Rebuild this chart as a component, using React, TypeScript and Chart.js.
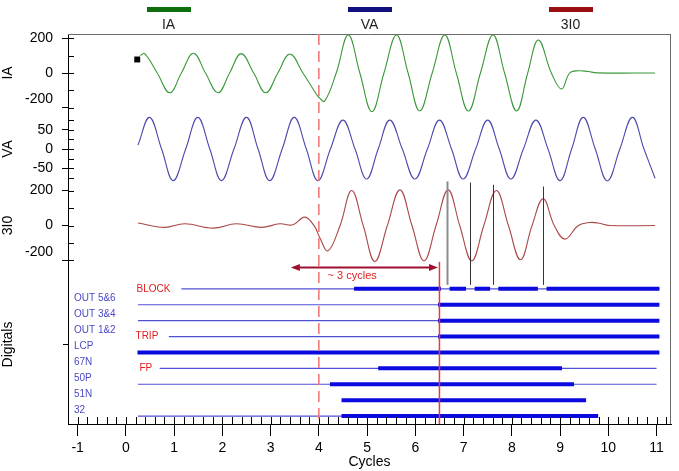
import React, { useEffect, useRef } from 'react';
import { Chart, registerables } from 'chart.js';

Chart.register(...registerables);

// ---- axes ----
const xMin = -1.2;
const xMax = 11.3;
const xTickValues = [-1, 0, 1, 2, 3, 4, 5, 6, 7, 8, 9, 10, 11];
const xMinorStep = 0.2;

const iaRange = [-225, 225];
const iaTicks = [-200, 0, 200];
const iaMinorTicks = [-100, 100];
const vaRange = [-96, 96];
const vaTicks = [-50, 0, 50];
const vaMinorTicks = [-75, -25, 25, 75];
const i0Range = [-226, 226];
const i0Ticks = [-200, 0, 200];
const i0MinorTicks = [-100, 100];
const digRange = [0, 10];
const digTicks = [5];

// ---- analog channels (cycles, value) ----
const iaCycles = [0.30, 0.39, 0.65, 0.91, 1.15, 1.40, 1.65, 1.91, 2.15, 2.39, 2.65, 2.90, 3.15, 3.40, 3.67, 3.91, 3.99, 4.12, 4.36, 4.61, 4.85, 5.10, 5.35, 5.61, 5.85, 6.09, 6.35, 6.61, 6.85, 7.10, 7.35, 7.61, 7.85, 8.10, 8.33, 8.55, 8.82, 9.03, 9.20, 9.38, 9.58, 9.76, 10.97];
const iaValues = [100, 112, 0, -114, 0, 114, 0, -114, 0, 112, 0, -114, 0, 110, 0, -105, -137, -162, 0, 219, 0, -223, 0, 219, 0, -219, 0, 219, 0, -219, 0, 219, 0, -219, 0, 190, 0, -92, 0, 13, 9, 1, 0];

const vaCycles = [0.25, 0.49, 0.74, 0.98, 1.24, 1.49, 1.74, 1.98, 2.24, 2.50, 2.74, 2.98, 3.24, 3.49, 3.74, 3.98, 4.24, 4.50, 4.75, 4.99, 5.23, 5.47, 5.73, 5.99, 6.25, 6.50, 6.75, 6.99, 7.25, 7.50, 7.74, 7.98, 8.24, 8.50, 8.75, 9.00, 9.24, 9.48, 9.73, 9.98, 10.24, 10.50, 10.74, 10.97];
const vaValues = [10, 82, 0, -82, 0, 82, 0, -82, 0, 82, 0, -82, 0, 82, 0, -82, 0, 75, 0, -78, 0, 75, 0, -78, 0, 75, 0, -78, 0, 75, 0, -78, 0, 75, 0, -82, 0, 82, 0, -83, 0, 82, 0, -76];

const i0Cycles = [0.25, 0.80, 1.22, 1.81, 2.29, 2.81, 3.19, 3.46, 3.71, 3.91, 4.02, 4.19, 4.44, 4.68, 4.92, 5.16, 5.42, 5.68, 5.93, 6.18, 6.43, 6.68, 6.92, 7.17, 7.42, 7.68, 7.93, 8.18, 8.42, 8.65, 8.88, 9.10, 9.38, 9.62, 9.79, 10.03, 10.97];
const i0Values = [14, -11, 10, -15, 10, -11, 10, 4, 48, -5, -70, -145, 0, 200, 0, -206, 0, 204, 0, -202, 0, 204, 0, -202, 0, 200, 0, -196, 0, 153, 0, -78, 0, 17, 14, 0, 0];

const startMarkerCycle = 0.235;
const startMarkerValue = 78;

// ---- digitals ----
const digitalRowLevels = [8.5, 7.5, 6.5, 5.5, 4.5, 3.5, 2.5, 1.5, 0.5];
const digitalThin = [[1.15, 11.06], [0.25, 6.47], [0.25, 6.47], [0.89, 6.47], null, [0.70, 11.0], [0.25, 11.0], null, [0.25, 9.79]];
const digitalThick = [
  [[4.73, 6.53], [6.71, 7.05], [7.23, 7.55], [7.72, 8.54], [8.72, 11.06]],
  [[6.47, 11.06]],
  [[6.47, 11.06]],
  [[6.47, 11.06]],
  [[0.24, 11.06]],
  [[5.23, 9.04]],
  [[4.23, 9.29]],
  [[4.47, 9.54]],
  [[4.47, 9.79]],
];
const digitalNames = ['OUT 5&6', 'OUT 3&4', 'OUT 1&2', 'LCP', '67N', '50P', '51N', '32'];
const eventLabels = ['BLOCK', 'TRIP', 'FP'];
const eventRows = [8.5, 5.5, 3.5];
const eventCycles = [0.22, 0.2, 0.28];

// ---- annotations ----
const faultCycle = 4;
const tripCycle = 6.5;
const arrowFrom = 3.42;
const arrowTo = 6.47;
const arrowLevel = 9.85;
const arrowText = '~ 3 cycles';
const arrowTextCycle = 4.18;
const arrowTextLevel = 9.28;
const markerCycles = [6.65, 7.13, 7.62, 8.64];
const markerTops = [252, 246, 233, 223];
const markerBottom = 8.75;

const legendLabels = ['IA', 'VA', '3I0'];
const legendColors = ['#0e6e0e', '#10107e', '#9a1010'];
const lineColors = ['#3a983a', '#4a4aac', '#aa4848'];

const FONT = '"Liberation Sans", Arial, sans-serif';
Chart.defaults.font.family = FONT;

const toPts = (xs: number[], ys: number[]) => xs.map((x, i) => ({ x, y: ys[i] }));

function buildDatasets() {
  const ds: any[] = [
    { label: 'IA', data: toPts(iaCycles, iaValues), yAxisID: 'ia', borderColor: lineColors[0], borderWidth: 1.1, pointRadius: 0, tension: 0.4, order: 0 },
    { label: 'VA', data: toPts(vaCycles, vaValues), yAxisID: 'va', borderColor: lineColors[1], borderWidth: 1.1, pointRadius: 0, tension: 0.4, order: 0 },
    { label: '3I0', data: toPts(i0Cycles, i0Values), yAxisID: 'i0', borderColor: lineColors[2], borderWidth: 1.1, pointRadius: 0, tension: 0.4, order: 0 },
    { label: 'start', data: [{ x: startMarkerCycle, y: startMarkerValue }], yAxisID: 'ia', showLine: false, pointStyle: 'rect', pointRadius: 4.2, backgroundColor: '#000', borderColor: '#000', borderWidth: 0, order: 0 },
  ];
  digitalRowLevels.forEach((lvl, i) => {
    const thin = digitalThin[i];
    if (thin) {
      ds.push({ label: 'thin' + i, data: [{ x: thin[0], y: lvl }, { x: thin[1], y: lvl }], yAxisID: 'dig', borderColor: '#5050d4', borderWidth: 1.2, pointRadius: 0, order: 2 });
    }
  });
  digitalRowLevels.forEach((lvl, i) => {
    const segs = digitalThick[i];
    const pts: any[] = [];
    segs.forEach((s, j) => {
      if (j > 0) pts.push({ x: (segs[j - 1][1] + s[0]) / 2, y: null });
      pts.push({ x: s[0], y: lvl }, { x: s[1], y: lvl });
    });
    ds.push({ label: 'thick' + i, data: pts, yAxisID: 'dig', borderColor: '#0a0ae0', borderWidth: 4, pointRadius: 0, spanGaps: false, order: 1 });
  });
  return ds;
}

function yAxis(title: string, range: number[], ticks: number[], weight: number, stackWeight: number, tickLen: number, showLabels: boolean) {
  return {
    type: 'linear',
    position: 'left',
    stack: 'panels',
    stackWeight,
    weight,
    min: range[0],
    max: range[1],
    afterBuildTicks: (s: any) => { s.ticks = ticks.map((v) => ({ value: v })); },
    afterFit: (s: any) => { s.width = 68; },
    ticks: {
      autoSkip: false,
      padding: 9,
      color: '#000',
      font: { size: 14 },
      callback: (v: any) => (showLabels ? (v === -200 ? ['-200', ''] : String(v)) : ''),
    },
    grid: { drawOnChartArea: false, tickLength: tickLen, color: '#000' },
    border: { color: '#000', width: 1 },
    title: { display: true, text: title, font: { size: 14 }, color: '#000', padding: 0 },
  };
}

const annotPlugin = {
  id: 'annot',
  afterDatasetsDraw(chart: any) {
    const { ctx, chartArea: ca, scales } = chart;
    const sx = scales.x, sDig = scales.dig, sI0 = scales.i0;
    const px = (v: number) => sx.getPixelForValue(v);
    const line = (x1: number, y1: number, x2: number, y2: number) => {
      ctx.beginPath(); ctx.moveTo(x1, y1); ctx.lineTo(x2, y2); ctx.stroke();
    };
    ctx.save();
    // frame
    ctx.strokeStyle = '#6a6a6a';
    ctx.lineWidth = 1;
    line(ca.left, ca.top + 0.5, ca.right, ca.top + 0.5);
    line(ca.right - 0.5, ca.top, ca.right - 0.5, ca.bottom);
    // inside y ticks
    ctx.strokeStyle = '#000';
    const sets: any[] = [
      [scales.ia, iaTicks.concat(iaMinorTicks)],
      [scales.va, vaTicks.concat(vaMinorTicks)],
      [scales.i0, i0Ticks.concat(i0MinorTicks)],
    ];
    sets.forEach(([s, vals]) => vals.forEach((v: number) => {
      const y = Math.round(s.getPixelForValue(v)) + 0.5;
      line(ca.left, y, ca.left + 6, y);
    }));
    // x minor ticks (inside)
    for (let k = Math.ceil(xMin / xMinorStep); k * xMinorStep <= xMax; k++) {
      const x = Math.round(px(k * xMinorStep)) + 0.5;
      line(x, ca.bottom, x, ca.bottom - 7);
    }
    // fault dashed line
    ctx.strokeStyle = '#f07a7a';
    ctx.lineWidth = 1.6;
    ctx.setLineDash([11, 6]);
    const fx = px(faultCycle);
    line(fx, ca.top, fx, ca.bottom);
    ctx.setLineDash([]);
    // marker lines
    markerCycles.forEach((c, i) => {
      ctx.strokeStyle = i === 0 ? '#8c8c8c' : '#333';
      ctx.lineWidth = i === 0 ? 2 : 1;
      const x = Math.round(px(c)) + 0.5;
      line(x, sI0.getPixelForValue(markerTops[i]), x, sDig.getPixelForValue(markerBottom));
    });
    // trip line
    ctx.strokeStyle = '#e8383a';
    ctx.lineWidth = 1.5;
    const tx = px(tripCycle);
    line(tx, sDig.getPixelForValue(10.2), tx, ca.bottom);
    // arrow
    const ay = sDig.getPixelForValue(arrowLevel);
    const a1 = px(arrowFrom), a2 = px(arrowTo);
    ctx.strokeStyle = '#a01030';
    ctx.fillStyle = '#a01030';
    ctx.lineWidth = 2;
    line(a1 + 6, ay, a2 - 6, ay);
    ctx.beginPath(); ctx.moveTo(a1, ay); ctx.lineTo(a1 + 9, ay - 3.5); ctx.lineTo(a1 + 9, ay + 3.5); ctx.closePath(); ctx.fill();
    ctx.beginPath(); ctx.moveTo(a2, ay); ctx.lineTo(a2 - 9, ay - 3.5); ctx.lineTo(a2 - 9, ay + 3.5); ctx.closePath(); ctx.fill();
    ctx.fillStyle = '#e02020';
    ctx.font = '11px ' + FONT;
    ctx.textAlign = 'left';
    ctx.textBaseline = 'middle';
    ctx.fillText(arrowText, px(arrowTextCycle), sDig.getPixelForValue(arrowTextLevel));
    // digital labels
    ctx.font = '10px ' + FONT;
    ctx.fillStyle = '#4a4ac4';
    digitalNames.forEach((n, i) => {
      ctx.fillText(n, ca.left + 6, sDig.getPixelForValue(digitalRowLevels[i + 1] + 0.38));
    });
    ctx.fillStyle = '#e01c1c';
    eventLabels.forEach((n, i) => {
      ctx.fillText(n, px(eventCycles[i]), sDig.getPixelForValue(eventRows[i]));
    });
    ctx.restore();
  },
};

const legendPlugin = {
  id: 'topLegend',
  afterDraw(chart: any) {
    const { ctx, chartArea: ca } = chart;
    ctx.save();
    legendLabels.forEach((lab, i) => {
      const cx = ca.left + (ca.width * (2 * i + 1)) / 6;
      ctx.fillStyle = legendColors[i];
      ctx.fillRect(Math.round(cx - 22), 7, 44, 5);
      ctx.fillStyle = '#222';
      ctx.font = '14px ' + FONT;
      ctx.textAlign = 'center';
      ctx.textBaseline = 'middle';
      ctx.fillText(lab, cx, 25);
    });
    ctx.restore();
  },
};

export default function App() {
  const ref = useRef<HTMLCanvasElement>(null);
  useEffect(() => {
    document.body.style.margin = '0';
    const canvas = ref.current as HTMLCanvasElement;
    const chart = new Chart(canvas, {
      type: 'line',
      data: { datasets: buildDatasets() },
      options: {
        responsive: false,
        animation: false,
        devicePixelRatio: 1,
        events: [],
        layout: { padding: { top: 34, left: 0, right: 8, bottom: 0 } },
        plugins: { legend: { display: false }, tooltip: { enabled: false } },
        scales: {
          x: {
            type: 'linear',
            position: 'bottom',
            min: xMin,
            max: xMax,
            afterBuildTicks: (s: any) => { s.ticks = xTickValues.map((v) => ({ value: v })); },
            afterFit: (s: any) => { s.height = 47; },
            ticks: { autoSkip: false, maxRotation: 0, padding: 4, color: '#000', font: { size: 14 }, callback: (v: any) => String(v) },
            grid: { drawOnChartArea: false, tickLength: 12, color: '#000' },
            border: { color: '#000', width: 1 },
            title: { display: true, text: 'Cycles', font: { size: 14 }, color: '#000', padding: 0 },
          },
          ia: yAxis('IA', iaRange, iaTicks, 4, 78, 6, true),
          va: yAxis('VA', vaRange, vaTicks, 3, 74, 6, true),
          i0: yAxis('3I0', i0Range, i0Ticks, 2, 79, 6, true),
          dig: yAxis('Digitals', digRange, digTicks, 1, 159, 5, false),
        } as any,
      } as any,
      plugins: [annotPlugin, legendPlugin],
    });
    return () => chart.destroy();
  }, []);
  return (
    <div style={{ width: 679, height: 471, background: '#fff' }}>
      <canvas ref={ref} width={679} height={471} style={{ display: 'block' }} />
    </div>
  );
}
